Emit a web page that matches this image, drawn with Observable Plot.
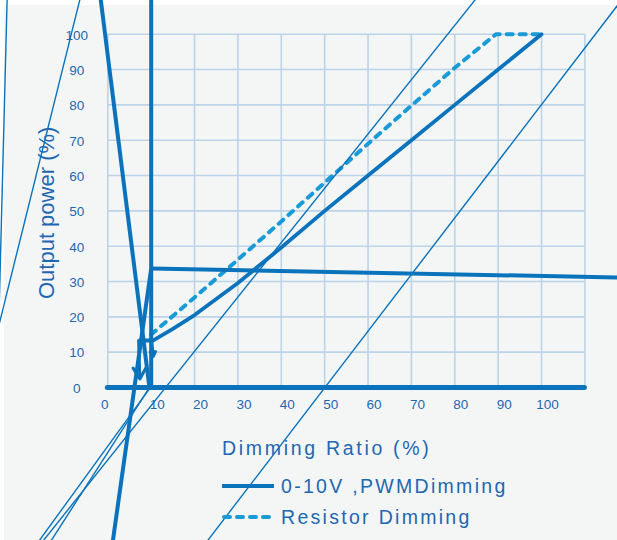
<!DOCTYPE html>
<html>
<head>
<meta charset="utf-8">
<script src="https://cdn.jsdelivr.net/npm/d3@7"></script>
<script src="https://cdn.jsdelivr.net/npm/@observablehq/plot@0.6"></script>
<style>
  html, body { margin: 0; padding: 0; background: #ffffff; }
  #wrap { position: relative; width: 617px; height: 540px; overflow: hidden; background: #ffffff; }
  #bg { position: absolute; left: 4px; top: 5px; right: 0; bottom: 0; background: #f4f6f6; }
  #chart { position: absolute; left: 0; top: 0; }
  .lbl { position: absolute; font-family: "Liberation Sans", Arial, sans-serif; color: #1f67b1; white-space: nowrap; }
  .lg { position: absolute; left: 222px; display: flex; align-items: center; }
  .lg span { font-family: "Liberation Sans", Arial, sans-serif; color: #1f67b1; font-size: 19.5px; letter-spacing: 2.3px; margin-left: 7px; }
</style>
</head>
<body>
<div id="wrap">
  <div id="bg"></div>
  <div id="chart"></div>
  <div class="lbl" id="xtitle" style="left:222px; top:437px; font-size:19.5px; letter-spacing:2.7px;">Dimming Ratio (%)</div>
  <div class="lg" style="top:474px;">
    <svg width="52" height="24"><line x1="1" y1="12" x2="51" y2="12" stroke="#0a73bc" stroke-width="4" stroke-linecap="round"/></svg>
    <span>0-10V ,PWMDimming</span>
  </div>
  <div class="lg" style="top:505px;">
    <svg width="52" height="24"><line x1="2" y1="12" x2="51" y2="12" stroke="#1a9bd7" stroke-width="4" stroke-dasharray="6,7" stroke-linecap="round"/></svg>
    <span>Resistor Dimming</span>
  </div>
</div>
<script>
// ---- data ----
const xTicks = [0, 10, 20, 30, 40, 50, 60, 70, 80, 90, 100];
const xGrid = [0, 10, 20, 30, 40, 50, 60, 70, 80, 90, 100, 110];
const yTicks = [0, 10, 20, 30, 40, 50, 60, 70, 80, 90, 100];

const pwmRatio   = [10, 15, 20, 30, 40, 50, 60, 70, 80, 90, 100];
const pwmOutput  = [13, 16.6, 20.5, 29.6, 39.6, 50, 60, 70, 80, 90, 100];

const resRatio   = [10, 20, 30, 40, 50, 60, 70, 80, 89.5, 100];
const resOutput  = [15, 25.5, 36.2, 47, 58, 69, 79.8, 90.5, 100, 100];

const seriesNames = ["0-10V ,PWMDimming", "Resistor Dimming"];

// stray segments seen in the picture, in data units [x1, y1, x2, y2]
const thickSegments = [
  [-1.7, 110.5, 9.6, 0],
  [10, 110.5, 10, 0],
  [10, 33.7, 119, 31.1],
  [1.1, -44, 10, 33.7],
  [7.1, 13.3, 10.2, 13.3]
];
const arrowSegments = [
  [7.1, 13.3, 7.4, 2.4],
  [10.1, 13.3, 10.5, 8.8]
];
const thinSegments = [
  [-23.2, 110.5, -25.2, 15],
  [-6.3, 110.5, -25.8, 14.2],
  [-15.3, -44, 85.2, 110.5],
  [-16.2, -44, 10.3, 0.8],
  [-13.4, -44, 9.4, -0.4],
  [117.6, 108.3, 22.6, -44]
];

// ---- build ----
const pwm = pwmRatio.map((x, i) => ({x, y: pwmOutput[i]}));
const res = resRatio.map((x, i) => ({x, y: resOutput[i]}));
const seg = a => a.map(([x1, y1, x2, y2]) => ({x1, y1, x2, y2}));

const blue = "#0a73bc";
const light = "#1a9bd7";
const txt = "#1f67b1";
const grid = "#bdd3e8";

const chart = Plot.plot({
  width: 617,
  height: 540,
  marginLeft: 107.3,
  marginRight: 32.6,
  marginTop: 33.7,
  marginBottom: 153,
  x: {domain: [0, 110], axis: null},
  y: {domain: [0, 100], axis: null},
  style: {background: "transparent", overflow: "visible", fontFamily: "Liberation Sans, Arial, sans-serif"},
  marks: [
    Plot.ruleX(xGrid, {y1: 0, y2: 100, stroke: grid, strokeWidth: 1.6}),
    Plot.ruleY(yTicks, {x1: 0, x2: 110, stroke: grid, strokeWidth: 1.6}),
    Plot.text(xTicks.filter(d => d === 0), {x: d => d, y: 0, dy: 17, dx: -3, text: d => String(d), fill: txt, fontSize: 13.5}),
    Plot.text(xTicks.filter(d => d !== 0), {x: d => d, y: 0, dy: 17, dx: 6, text: d => String(d), fill: txt, fontSize: 13.5}),
    Plot.text(yTicks, {x: 0, y: d => d, dx: -31, dy: 1, text: d => String(d), fill: txt, fontSize: 13.5, textAnchor: "middle"}),
    Plot.text([["Output power (%)"]], {x: 0, y: 50, dx: -61, dy: 2, text: d => d[0], rotate: -90, fill: txt, fontSize: 22, textAnchor: "middle"}),
    Plot.line(res, {x: "x", y: "y", stroke: light, strokeWidth: 4, strokeDasharray: "6,7", strokeLinecap: "round"}),
    Plot.line(pwm, {x: "x", y: "y", stroke: blue, strokeWidth: 3.8, strokeLinecap: "round"}),
    Plot.link(seg(thinSegments), {x1: "x1", y1: "y1", x2: "x2", y2: "y2", stroke: blue, strokeWidth: 1.4}),
    Plot.link(seg(thickSegments), {x1: "x1", y1: "y1", x2: "x2", y2: "y2", stroke: blue, strokeWidth: 4}),
    Plot.arrow(seg(arrowSegments), {x1: "x1", y1: "y1", x2: "x2", y2: "y2", stroke: blue, strokeWidth: 3, headLength: 7}),
    Plot.ruleY([0], {x1: 0, x2: 110, stroke: blue, strokeWidth: 5, strokeLinecap: "round"})
  ]
});
document.getElementById("chart").appendChild(chart);
</script>
</body>
</html>
